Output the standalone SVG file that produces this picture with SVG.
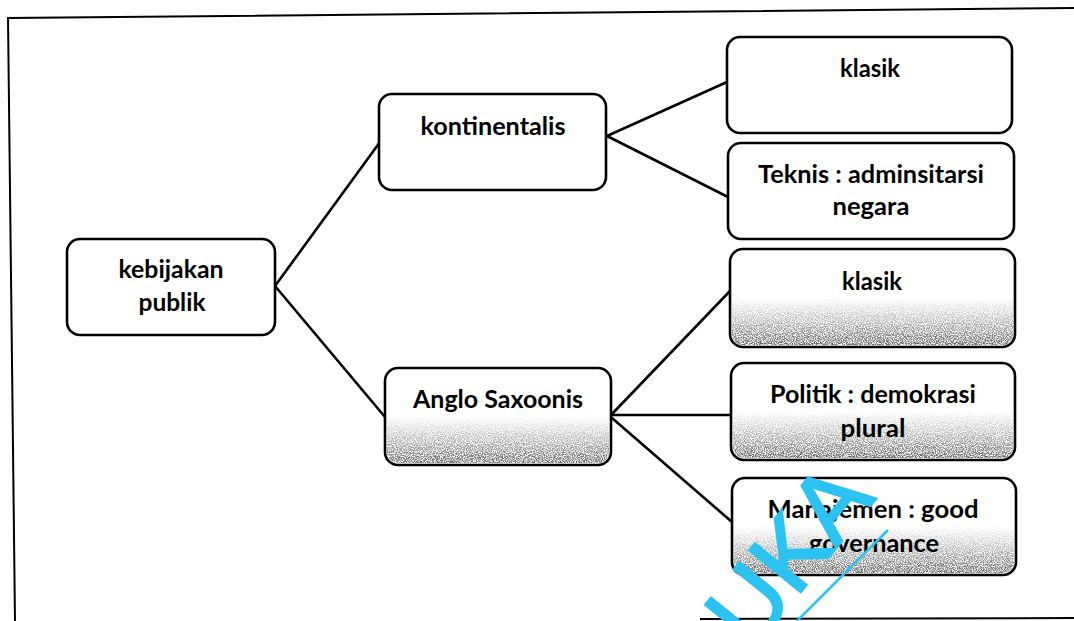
<svg xmlns="http://www.w3.org/2000/svg" width="1074" height="621" viewBox="0 0 1074 621">
  <style>
    .box { fill: #ffffff; stroke: #000000; stroke-width: 2.6; }
    .shade { fill: url(#fade); filter: url(#grain); }
    .link { fill: none; stroke: #000000; stroke-width: 2.6; stroke-linecap: round; }
    .frame { fill: none; stroke: #000000; stroke-width: 2; }
    .label { font-family: Lato, "Open Sans", "DejaVu Sans", sans-serif; font-weight: bold; font-size: 25px; fill: #000000; text-anchor: middle; }
    .mark { font-family: "Liberation Sans", Arial, sans-serif; font-size: 96px; fill: #2cc3f3; stroke: #2cc3f3; stroke-width: 2.5; }
  </style>
  <defs>
    <!-- darkening toward the lower edge of shaded boxes -->
    <linearGradient id="fade" x1="0" y1="0" x2="0" y2="1">
      <stop offset="0" stop-color="#000" stop-opacity="0"/>
      <stop offset="0.5" stop-color="#000" stop-opacity="0"/>
      <stop offset="0.75" stop-color="#000" stop-opacity="0.45"/>
      <stop offset="1" stop-color="#000" stop-opacity="0.95"/>
    </linearGradient>
    <!-- speckled print grain -->
    <filter id="grain" x="0" y="0" width="1" height="1">
      <feTurbulence type="fractalNoise" baseFrequency="0.9" numOctaves="2" seed="7" result="n"/>
      <feColorMatrix in="n" type="matrix" values="0 0 0 0 0.1  0 0 0 0 0.1  0 0 0 0 0.1  3.5 0 0 0 -1.2" result="dots"/>
      <feComposite in="dots" in2="SourceGraphic" operator="in"/>
    </filter>
  </defs>

  <rect x="0" y="0" width="1074" height="621" fill="#ffffff"/>

  <!-- outer frame -->
  <g id="frame">
    <polyline class="frame" points="15,621 8,18 1074,8"/>
    <line class="frame" x1="700" y1="619" x2="1074" y2="618"/>
  </g>

  <!-- connectors -->
  <g id="connectors">
    <line class="link" x1="275" y1="286" x2="380" y2="142"/>
    <line class="link" x1="275" y1="286" x2="385" y2="417"/>
    <line class="link" x1="607" y1="136" x2="727" y2="82"/>
    <line class="link" x1="607" y1="136" x2="728" y2="197"/>
    <line class="link" x1="612" y1="414" x2="730" y2="291"/>
    <line class="link" x1="612" y1="415" x2="731" y2="415"/>
    <line class="link" x1="612" y1="418" x2="732" y2="522"/>
  </g>

  <g id="kebijakan-publik">
    <rect class="box" x="67" y="239" width="208" height="96" rx="13"/>
    <text class="label" x="171" y="278" textLength="105" lengthAdjust="spacingAndGlyphs">kebijakan</text>
    <text class="label" x="172" y="311" textLength="67" lengthAdjust="spacingAndGlyphs">publik</text>
  </g>

  <g id="kontinentalis">
    <rect class="box" x="379" y="94" width="227" height="96" rx="13"/>
    <text class="label" x="493" y="135" textLength="145" lengthAdjust="spacingAndGlyphs">kontinentalis</text>
  </g>

  <g id="anglo-saxoonis">
    <rect class="box" x="385" y="368" width="226" height="97" rx="13"/>
    <rect class="shade" x="387" y="370" width="222" height="93" rx="11"/>
    <text class="label" x="498" y="408" textLength="170" lengthAdjust="spacingAndGlyphs">Anglo Saxoonis</text>
  </g>

  <g id="klasik-kontinental">
    <rect class="box" x="727" y="37" width="285" height="96" rx="13"/>
    <text class="label" x="870" y="77" textLength="60" lengthAdjust="spacingAndGlyphs">klasik</text>
  </g>

  <g id="teknis">
    <rect class="box" x="728" y="143" width="286" height="96" rx="13"/>
    <text class="label" x="871" y="183" textLength="226" lengthAdjust="spacingAndGlyphs">Teknis : adminsitarsi</text>
    <text class="label" x="871" y="215" textLength="77" lengthAdjust="spacingAndGlyphs">negara</text>
  </g>

  <g id="klasik-anglo">
    <rect class="box" x="730" y="249" width="285" height="98" rx="13"/>
    <rect class="shade" x="732" y="251" width="281" height="94" rx="11"/>
    <text class="label" x="872" y="290" textLength="60" lengthAdjust="spacingAndGlyphs">klasik</text>
  </g>

  <g id="politik">
    <rect class="box" x="731" y="363" width="284" height="97" rx="13"/>
    <rect class="shade" x="733" y="365" width="280" height="93" rx="11"/>
    <text class="label" x="873" y="403" textLength="206" lengthAdjust="spacingAndGlyphs">Politik : demokrasi</text>
    <text class="label" x="873" y="437" textLength="65" lengthAdjust="spacingAndGlyphs">plural</text>
  </g>

  <g id="manajemen">
    <rect class="box" x="732" y="478" width="284" height="97" rx="13"/>
    <rect class="shade" x="734" y="480" width="280" height="93" rx="11"/>
    <text class="label" x="873" y="518" textLength="211" lengthAdjust="spacingAndGlyphs">Manajemen : good</text>
    <text class="label" x="874" y="552" textLength="130" lengthAdjust="spacingAndGlyphs">governance</text>
  </g>

  <!-- watermark -->
  <g id="watermark">
    <text class="mark" transform="translate(752,652) rotate(-51)">UKA</text>
    <line x1="797" y1="621" x2="888" y2="530" stroke="#2cc3f3" stroke-width="2.5"/>
  </g>
</svg>
